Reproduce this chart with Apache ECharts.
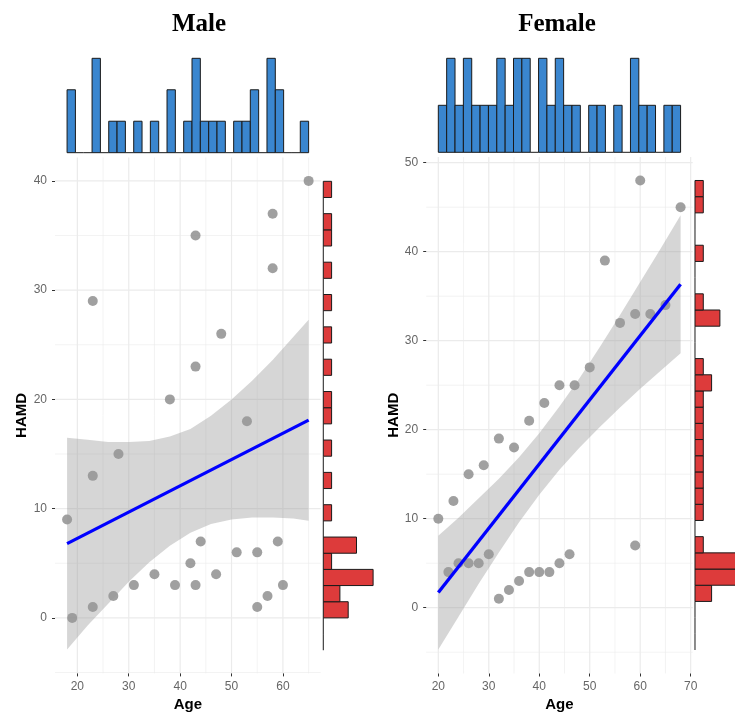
<!DOCTYPE html>
<html>
<head>
<meta charset="utf-8">
<script src="https://cdn.jsdelivr.net/npm/echarts@6/dist/echarts.min.js"></script>
<style>html,body{margin:0;padding:0;background:#fff}#c{width:735px;height:712px}</style>
</head>
<body>
<div id="c"></div>
<script>
// ---------------- data ----------------
const maleAge  = [65,58,43,58,23,48,43,38,53,28,23,18,44,59,51,55,42,35,47,31,39,43,60,27,57,23,55,19];
const maleHamd = [40,37,35,32,29,26,23,20,18,15,13, 9, 7, 7, 6, 6, 5, 4, 4, 3, 3, 3, 3, 2, 2, 1, 1, 0];
const femaleAge  = [60,68,53,56,59,62,65,50,44,47,41,38,32,35,29,26,23,20,59,30,46,24,26,28,44,22,38,40,42,36,34,32];
const femaleHamd = [48,45,39,32,33,33,34,27,25,25,23,21,19,18,16,15,12,10, 7, 6, 6, 5, 5, 5, 5, 4, 4, 4, 4, 3, 2, 1];

// fitted regression lines
const maleFitAge = [18, 65];
const maleFitHamd = [6.8, 18.1];
const femaleFitAge = [20, 68];
const femaleFitHamd = [1.7, 36.35];

// confidence bands
const maleBandAge  = [18, 22, 26, 30, 34, 38, 42, 46, 50, 54, 58, 62, 65];
const maleBandLow  = [-2.9, -0.7, 1.3, 3.3, 5.1, 6.6, 7.8, 8.6, 9.0, 9.2, 9.2, 9.1, 8.9];
const maleBandHigh = [16.5, 16.3, 16.1, 16.1, 16.2, 16.6, 17.3, 18.5, 20.0, 21.7, 23.6, 25.7, 27.3];
const femaleBandAge  = [20, 24, 28, 32, 36, 40, 44, 48, 52, 56, 60, 64, 68];
const femaleBandLow  = [-4.7, -1.0, 2.7, 6.2, 9.6, 12.7, 15.5, 18.0, 20.3, 22.5, 24.6, 26.6, 28.6];
const femaleBandHigh = [8.1, 10.1, 12.3, 14.5, 16.9, 19.6, 22.6, 25.8, 29.3, 32.9, 36.6, 40.3, 44.1];

// marginal histograms (bin start, bin width, counts)
const maleAgeBinStart = 18, maleAgeBinWidth = 47 / 29;
const maleAgeCounts = [2,0,0,3,0,1,1,0,1,0,1,0,2,0,1,3,1,1,1,0,1,1,2,0,3,2,0,0,1];
const maleHamdBinStart = -2.96, maleHamdBinWidth = 1.48;
const maleHamdCounts = [0,0,3,2,6,1,4,0,1,0,1,0,1,0,1,1,0,1,0,1,0,1,0,1,0,1,1,0,1];
const femaleAgeBinStart = 20, femaleAgeBinWidth = 48 / 29;
const femaleAgeCounts = [1,2,1,2,1,1,1,2,1,2,2,0,2,1,2,1,1,0,1,1,0,1,0,2,1,1,0,1,1];
const femaleHamdBinStart = -4.75, femaleHamdBinWidth = 1.819;
const femaleHamdCounts = [0,0,0,2,5,6,1,0,1,1,1,1,1,1,1,1,2,1,0,0,3,1,0,0,1,0,0,1,1];

// axis ticks
const maleAgeTicks = [20,30,40,50,60];
const maleAgeMinor = [25,35,45,55,65];
const maleHamdTicks = [0,10,20,30,40];
const maleHamdMinor = [-5,5,15,25,35];
const femaleAgeTicks = [20,30,40,50,60,70];
const femaleAgeMinor = [25,35,45,55,65];
const femaleHamdTicks = [0,10,20,30,40,50];
const femaleHamdMinor = [-5,5,15,25,35,45];

// axis ranges
const maleAgeRange = [15.65, 67.35];
const maleHamdRange = [-5.08, 42.15];
const femaleAgeRange = [17.6, 70.4];
const femaleHamdRange = [-7.39, 50.64];

// ---------------- styling / layout ----------------
const SANS = 'Liberation Sans, Arial, sans-serif';
const SERIF = 'Liberation Serif, Times New Roman, serif';
const GRID_COL = '#ebebeb';
const BLUE_FILL = '#3a86cf';
const RED_FILL = '#dd3b3b';
const OUTLINE = '#1a1a1a';

const chart = echarts.init(document.getElementById('c'), null, {renderer: 'canvas'});

const zip = (a, b) => a.map((v, i) => [v, b[i]]);

function gridSeries(xi, vals, orient, xr, yr, width) {
  return {
    type: 'custom', xAxisIndex: xi, yAxisIndex: xi, silent: true, z: 0,
    data: vals.map(v => [v]),
    encode: orient === 'v' ? {x: 0} : {y: 0},
    renderItem: (p, api) => {
      const v = api.value(0);
      const a = orient === 'v' ? api.coord([v, yr[0]]) : api.coord([xr[0], v]);
      const b = orient === 'v' ? api.coord([v, yr[1]]) : api.coord([xr[1], v]);
      return {type: 'line', shape: {x1: a[0], y1: a[1], x2: b[0], y2: b[1]},
              style: {stroke: GRID_COL, lineWidth: width}};
    }
  };
}

function histTop(xi, start, w, counts, fill) {
  return {
    type: 'custom', xAxisIndex: xi, yAxisIndex: xi, silent: true, z: 2,
    data: counts.map((c, i) => [start + i * w, start + (i + 1) * w, c]),
    encode: {x: [0, 1], y: 2},
    renderItem: (p, api) => {
      const x0 = api.value(0), x1 = api.value(1), c = api.value(2);
      const a = api.coord([x0, 0]), b = api.coord([x1, c]);
      if (c > 0) return {type: 'rect', shape: {x: a[0], y: b[1], width: b[0] - a[0], height: a[1] - b[1]},
                         style: {fill: fill, stroke: OUTLINE, lineWidth: 1}};
      return {type: 'line', shape: {x1: a[0], y1: a[1], x2: b[0], y2: a[1]}, style: {stroke: OUTLINE, lineWidth: 1}};
    }
  };
}

function histRight(xi, start, w, counts, fill) {
  return {
    type: 'custom', xAxisIndex: xi, yAxisIndex: xi, silent: true, z: 2, clip: false,
    data: counts.map((c, i) => [start + i * w, start + (i + 1) * w, c]),
    encode: {y: [0, 1], x: 2},
    renderItem: (p, api) => {
      const y0 = api.value(0), y1 = api.value(1), c = api.value(2);
      const a = api.coord([0, y0]), b = api.coord([c, y1]);
      if (c > 0) return {type: 'rect', shape: {x: a[0], y: b[1], width: b[0] - a[0], height: a[1] - b[1]},
                         style: {fill: fill, stroke: OUTLINE, lineWidth: 1}};
      return {type: 'line', shape: {x1: a[0], y1: a[1], x2: a[0], y2: b[1]}, style: {stroke: OUTLINE, lineWidth: 1}};
    }
  };
}

function bandSeries(xi, ages, low, high) {
  return {
    type: 'custom', xAxisIndex: xi, yAxisIndex: xi, silent: true, z: 3,
    data: [[ages[0], low[0]]],
    renderItem: (p, api) => {
      const pts = ages.map((x, i) => api.coord([x, high[i]]));
      for (let i = ages.length - 1; i >= 0; i--) pts.push(api.coord([ages[i], low[i]]));
      return {type: 'polygon', shape: {points: pts}, style: {fill: 'rgba(153,153,153,0.4)'}};
    }
  };
}

function mainX(gi, range, ticks, gap) {
  return {
    gridIndex: gi, type: 'value', min: range[0], max: range[1],
    axisLine: {show: false, onZero: false},
    splitLine: {show: false},
    axisTick: {show: true, customValues: ticks, length: 3, lineStyle: {color: '#333', width: 1}},
    axisLabel: {customValues: ticks, color: '#666', fontSize: 12, fontFamily: SANS, margin: 7},
    name: 'Age', nameLocation: 'middle', nameGap: gap,
    nameTextStyle: {fontWeight: 'bold', fontSize: 15, color: '#000', fontFamily: SANS}
  };
}
function mainY(gi, range, ticks, gap) {
  return {
    gridIndex: gi, type: 'value', min: range[0], max: range[1],
    axisLine: {show: false, onZero: false},
    splitLine: {show: false},
    axisTick: {show: true, customValues: ticks, length: 3, lineStyle: {color: '#333', width: 1}},
    axisLabel: {customValues: ticks, color: '#666', fontSize: 12, fontFamily: SANS, margin: 8},
    name: 'HAMD', nameLocation: 'middle', nameGap: gap, nameRotate: 90,
    nameTextStyle: {fontWeight: 'bold', fontSize: 15, color: '#000', fontFamily: SANS}
  };
}
const hidden = (gi, min, max) => ({gridIndex: gi, type: 'value', min: min, max: max, show: false,
  axisLine: {onZero: false}, splitLine: {show: false}});

const mx = maleAgeRange, my = maleHamdRange, fx = femaleAgeRange, fy = femaleHamdRange;
const mAgeMax = Math.max(...maleAgeCounts), mHamdMax = Math.max(...maleHamdCounts);
const fAgeMax = Math.max(...femaleAgeCounts), fHamdMax = Math.max(...femaleHamdCounts);

const G = (o) => Object.assign({outerBoundsMode: 'none', containLabel: false}, o);

const option = {
  backgroundColor: '#fff',
  animation: false,
  grid: [
    G({left: 55, top: 157.4, width: 265.7, height: 516}),        // 0 male main
    G({left: 55, top: 53.6, width: 265.7, height: 103.8}),        // 1 male top hist
    G({left: 320.8, top: 157.4, width: 54.8, height: 516}),       // 2 male right hist
    G({left: 426.2, top: 157, width: 266.5, height: 516.5}),      // 3 female main
    G({left: 426.2, top: 53.6, width: 266.5, height: 103.4}),     // 4 female top hist
    G({left: 692.5, top: 157, width: 54.8, height: 516.5})        // 5 female right hist
  ],
  xAxis: [
    mainX(0, mx, maleAgeTicks, 23),
    hidden(1, mx[0], mx[1]),
    hidden(2, -0.05 * mHamdMax, 1.05 * mHamdMax),
    mainX(3, fx, femaleAgeTicks, 23),
    hidden(4, fx[0], fx[1]),
    hidden(5, -0.05 * fHamdMax, 1.05 * fHamdMax)
  ],
  yAxis: [
    mainY(0, my, maleHamdTicks, 25),
    hidden(1, -0.05 * mAgeMax, 1.05 * mAgeMax),
    hidden(2, my[0], my[1]),
    mainY(3, fy, femaleHamdTicks, 23),
    hidden(4, -0.05 * fAgeMax, 1.05 * fAgeMax),
    hidden(5, fy[0], fy[1])
  ],
  graphic: [
    {type: 'text', x: 199, y: 25, style: {text: 'Male', font: 'bold 25px ' + SERIF, fill: '#000', align: 'center', verticalAlign: 'middle'}},
    {type: 'text', x: 557, y: 25, style: {text: 'Female', font: 'bold 25px ' + SERIF, fill: '#000', align: 'center', verticalAlign: 'middle'}}
  ],
  series: [
    gridSeries(0, maleAgeMinor, 'v', mx, my, 0.6),
    gridSeries(0, maleHamdMinor, 'h', mx, my, 0.6),
    gridSeries(0, maleAgeTicks, 'v', mx, my, 1.2),
    gridSeries(0, maleHamdTicks, 'h', mx, my, 1.2),
    {type: 'scatter', xAxisIndex: 0, yAxisIndex: 0, z: 2, symbolSize: 10,
     itemStyle: {color: '#888888'}, data: zip(maleAge, maleHamd)},
    bandSeries(0, maleBandAge, maleBandLow, maleBandHigh),
    {type: 'line', xAxisIndex: 0, yAxisIndex: 0, z: 4, showSymbol: false, symbol: 'none',
     lineStyle: {color: '#0000ff', width: 3.3}, data: zip(maleFitAge, maleFitHamd)},
    histTop(1, maleAgeBinStart, maleAgeBinWidth, maleAgeCounts, BLUE_FILL),
    histRight(2, maleHamdBinStart, maleHamdBinWidth, maleHamdCounts, RED_FILL),
    gridSeries(3, femaleAgeMinor, 'v', fx, fy, 0.6),
    gridSeries(3, femaleHamdMinor, 'h', fx, fy, 0.6),
    gridSeries(3, femaleAgeTicks, 'v', fx, fy, 1.2),
    gridSeries(3, femaleHamdTicks, 'h', fx, fy, 1.2),
    {type: 'scatter', xAxisIndex: 3, yAxisIndex: 3, z: 2, symbolSize: 10,
     itemStyle: {color: '#888888'}, data: zip(femaleAge, femaleHamd)},
    bandSeries(3, femaleBandAge, femaleBandLow, femaleBandHigh),
    {type: 'line', xAxisIndex: 3, yAxisIndex: 3, z: 4, showSymbol: false, symbol: 'none',
     lineStyle: {color: '#0000ff', width: 3.3}, data: zip(femaleFitAge, femaleFitHamd)},
    histTop(4, femaleAgeBinStart, femaleAgeBinWidth, femaleAgeCounts, BLUE_FILL),
    histRight(5, femaleHamdBinStart, femaleHamdBinWidth, femaleHamdCounts, RED_FILL)
  ]
};
chart.setOption(option);
</script>
</body>
</html>
